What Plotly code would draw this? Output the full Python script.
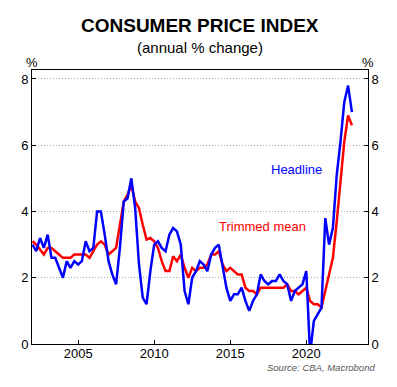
import plotly.graph_objects as go
import pandas as pd

# Quarterly dates (quarter start), Mar-2002 .. Mar-2023
dates = pd.date_range("2002-01-01", "2023-01-01", freq="QS").strftime("%Y-%m-%d").tolist()

headline = [
    3.0, 2.8, 3.2, 2.9,   # 2002
    3.3, 2.6, 2.6, 2.3,   # 2003
    2.0, 2.5, 2.3, 2.5,   # 2004
    2.4, 2.5, 3.1, 2.8,   # 2005
    2.9, 4.0, 4.0, 3.3,   # 2006
    2.5, 2.1, 1.8, 2.9,   # 2007
    4.3, 4.4, 5.0, 4.1,   # 2008
    2.4, 1.4, 1.2, 2.2,   # 2009
    3.0, 3.1, 2.9, 2.8,   # 2010
    3.3, 3.5, 3.4, 3.0,   # 2011
    1.6, 1.2, 2.0, 2.2,   # 2012
    2.5, 2.4, 2.2, 2.7,   # 2013
    2.9, 3.0, 2.3, 1.7,   # 2014
    1.3, 1.5, 1.5, 1.7,   # 2015
    1.3, 1.0, 1.3, 1.5,   # 2016
    2.1, 1.9, 1.8, 1.9,   # 2017
    1.9, 2.1, 1.9, 1.8,   # 2018
    1.3, 1.6, 1.7, 1.8,   # 2019
    2.2, -0.3, 0.7, 0.9,  # 2020
    1.1, 3.8, 3.0, 3.5,   # 2021
    5.1, 6.1, 7.3, 7.8,   # 2022
    7.0,                  # 2023
]

trimmed_mean = [
    3.1, 3.0, 2.85, 2.7,  # 2002
    2.9, 2.9, 2.8, 2.7,   # 2003
    2.6, 2.6, 2.6, 2.7,   # 2004
    2.7, 2.7, 2.7, 2.6,   # 2005
    2.8, 3.0, 3.1, 3.0,   # 2006
    2.7, 2.8, 2.9, 3.6,   # 2007
    4.3, 4.5, 4.8, 4.3,   # 2008
    4.1, 3.6, 3.15, 3.2,  # 2009
    3.1, 2.9, 2.5, 2.2,   # 2010
    2.2, 2.65, 2.5, 2.7,  # 2011
    2.3, 2.0, 2.3, 2.2,   # 2012
    2.3, 2.3, 2.4, 2.7,   # 2013
    2.7, 2.8, 2.4, 2.2,   # 2014
    2.3, 2.2, 2.1, 2.1,   # 2015
    1.7, 1.6, 1.6, 1.5,   # 2016
    1.7, 1.7, 1.7, 1.7,   # 2017
    1.7, 1.7, 1.7, 1.8,   # 2018
    1.6, 1.6, 1.5, 1.6,   # 2019
    1.7, 1.3, 1.2, 1.2,   # 2020
    1.1, 1.6, 2.1, 2.6,   # 2021
    3.7, 4.9, 6.1, 6.9,   # 2022
    6.6,                  # 2023
]

year_ticks = ["2005-01-01", "2010-01-01", "2015-01-01", "2020-01-01"]
year_labels = ["2005", "2010", "2015", "2020"]
y_ticks = [0, 2, 4, 6, 8]

FONT = "Liberation Sans, Arial, sans-serif"

fig = go.Figure()
fig.add_trace(go.Scatter(x=dates, y=trimmed_mean, mode="lines", name="Trimmed mean",
                         line=dict(color="#ff0000", width=2.5)))
fig.add_trace(go.Scatter(x=dates, y=headline, mode="lines", name="Headline", yaxis="y2",
                         line=dict(color="#0000ff", width=2.5)))

axis_common = dict(showline=True, linecolor="#000000", linewidth=1, ticks="inside",
                   ticklen=4, tickcolor="#000000", tickfont=dict(size=13, color="#000000", family=FONT))

fig.update_layout(
    width=397, height=387,
    margin=dict(l=32, r=29, t=70, b=43),
    paper_bgcolor="white", plot_bgcolor="white",
    showlegend=False,
    font=dict(family=FONT, color="#000000"),
    xaxis=dict(type="date", range=["2001-12-20", "2024-01-22"], tickvals=year_ticks,
               ticktext=year_labels, showgrid=False, mirror=True, zeroline=False,
               ticklabelstandoff=-3, **axis_common),
    yaxis=dict(range=[0, 8.27], tickvals=y_ticks, showgrid=True, gridcolor="#a8a8a8",
               griddash="1px,2px", gridwidth=1, zeroline=False, **axis_common),
    yaxis2=dict(range=[0, 8.27], tickvals=y_ticks, overlaying="y", side="right",
                showgrid=False, zeroline=False, **axis_common),
)

annotations = [
    dict(text="<b>CONSUMER PRICE INDEX</b>", xref="paper", yref="paper", x=0.5, y=(344 - 26) / 274,
         showarrow=False, font=dict(size=19, family=FONT), xanchor="center", yanchor="middle"),
    dict(text="(annual % change)", xref="paper", yref="paper", x=0.5, y=(344 - 47) / 274,
         showarrow=False, font=dict(size=15, family=FONT), xanchor="center", yanchor="middle"),
    dict(text="%", xref="paper", yref="paper", x=0, y=(344 - 63) / 274,
         showarrow=False, font=dict(size=13, family=FONT), xanchor="center", yanchor="middle"),
    dict(text="%", xref="paper", yref="paper", x=1, y=(344 - 63) / 274,
         showarrow=False, font=dict(size=13, family=FONT), xanchor="center", yanchor="middle"),
    dict(text="Headline", xref="x", yref="y", x="2019-05-04", y=5.28,
         showarrow=False, font=dict(size=13, color="#0000ff", family=FONT)),
    dict(text="Trimmed mean", xref="x", yref="y", x="2017-02-17", y=3.54,
         showarrow=False, font=dict(size=13, color="#ff0000", family=FONT)),
    dict(text="<i>Source: CBA, Macrobond</i>", xref="paper", yref="paper",
         x=(377 - 32) / 336, y=(344 - 367) / 274, showarrow=False, xanchor="right", yanchor="middle",
         font=dict(size=9.5, color="#555555", family=FONT)),
]
fig.update_layout(annotations=annotations)

fig.write_html("out.html", config={"displayModeBar": False},
               post_script="document.body.style.margin='0';document.body.style.overflow='hidden';")
